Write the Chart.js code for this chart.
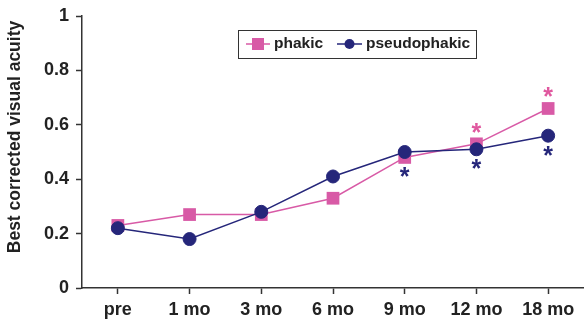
<!DOCTYPE html>
<html>
<head>
<meta charset="utf-8">
<script src="https://cdn.jsdelivr.net/npm/chart.js@4"></script>
<style>
  html, body { margin: 0; padding: 0; background: #fff; overflow: hidden; }
  #wrap { width: 584px; height: 326px; position: relative; }
</style>
</head>
<body>
<div id="wrap"><canvas id="myChart"></canvas></div>
<script>
const labels = ['pre', '1 mo', '3 mo', '6 mo', '9 mo', '12 mo', '18 mo'];
const phakic = [0.23, 0.27, 0.27, 0.33, 0.48, 0.53, 0.66];
const pseudophakic = [0.22, 0.18, 0.28, 0.41, 0.50, 0.51, 0.56];
// significance marks (1 = asterisk)
const phakicStars = [0, 0, 0, 0, 0, 1, 1];
const pseudoStars = [0, 0, 0, 0, 1, 1, 1];
const yTicks = [0, 0.2, 0.4, 0.6, 0.8, 1];

const pink = '#d85aa6';
const navy = '#25267a';
const textColor = '#222';
const fontFam = '"Liberation Sans", Arial, Helvetica, sans-serif';

function centerText(ctx, txt, x, cy) {
  ctx.textBaseline = 'alphabetic';
  let m = ctx.measureText(txt);
  let y = cy + (m.actualBoundingBoxAscent - m.actualBoundingBoxDescent) / 2;
  ctx.fillText(txt, x, y);
}

const extras = {
  id: 'extras',
  afterDatasetsDraw(chart) {
    let ctx = chart.ctx;
    let m0 = chart.getDatasetMeta(0);
    let m1 = chart.getDatasetMeta(1);
    ctx.save();
    ctx.font = 'bold 25px ' + fontFam;
    ctx.textAlign = 'center';
    for (let i = 0; i < labels.length; i++) {
      let p = m0.data[i], q = m1.data[i];
      let top = Math.min(p.y, q.y);
      let bottom = Math.max(p.y, q.y);
      if (phakicStars[i]) {
        ctx.fillStyle = '#e0589f';
        centerText(ctx, '*', p.x, top - 16);
      }
      if (pseudoStars[i]) {
        ctx.fillStyle = navy;
        centerText(ctx, '*', q.x, bottom + 15);
      }
    }

    // legend box
    ctx.strokeStyle = '#333';
    ctx.lineWidth = 1;
    ctx.strokeRect(238.5, 30.5, 238, 28);
    ctx.lineWidth = 1.5;
    ctx.strokeStyle = pink;
    ctx.beginPath(); ctx.moveTo(246, 44); ctx.lineTo(270, 44); ctx.stroke();
    ctx.fillStyle = pink;
    ctx.fillRect(252, 38, 12, 12);
    ctx.strokeStyle = navy;
    ctx.beginPath(); ctx.moveTo(337, 44); ctx.lineTo(362, 44); ctx.stroke();
    ctx.fillStyle = navy;
    ctx.beginPath(); ctx.arc(349.5, 44, 5, 0, Math.PI * 2); ctx.fill();
    ctx.fillStyle = textColor;
    ctx.font = 'bold 15.5px ' + fontFam;
    ctx.textAlign = 'left';
    centerText(ctx, 'phakic', 274, 44);
    centerText(ctx, 'pseudophakic', 366, 44);

    // y title
    ctx.translate(15, 137);
    ctx.rotate(-Math.PI / 2);
    ctx.textAlign = 'center';
    ctx.font = 'bold 17.5px ' + fontFam;
    centerText(ctx, 'Best corrected visual acuity', 0, 0);
    ctx.restore();
  }
};

new Chart(document.getElementById('myChart'), {
  type: 'line',
  data: {
    labels: labels,
    datasets: [{
      label: 'phakic',
      data: phakic,
      borderColor: pink,
      backgroundColor: pink,
      borderWidth: 1.5,
      pointStyle: 'rect',
      pointRadius: 9,
      pointBorderWidth: 0,
      tension: 0,
      order: 2
    }, {
      label: 'pseudophakic',
      data: pseudophakic,
      borderColor: navy,
      backgroundColor: navy,
      borderWidth: 1.5,
      pointStyle: 'circle',
      pointRadius: 6.5,
      pointBorderWidth: 1,
      tension: 0,
      order: 1
    }]
  },
  options: {
    responsive: true,
    maintainAspectRatio: false,
    animation: false,
    layout: { autoPadding: false, padding: { top: 16, right: 0, left: 0, bottom: 0 } },
    plugins: { legend: { display: false }, tooltip: { enabled: false } },
    scales: {
      x: {
        offset: true,
        grid: { drawOnChartArea: false, color: '#333', tickLength: 6, tickWidth: 1.5 },
        border: { color: '#333', width: 1.5 },
        ticks: { color: textColor, font: { family: fontFam, size: 18, weight: 'bold' }, padding: 5, maxRotation: 0, autoSkip: false },
        afterFit: s => { s.height = 38; s.paddingLeft = 0; s.paddingRight = 0; }
      },
      y: {
        min: 0, max: 1,
        afterBuildTicks: s => { s.ticks = yTicks.map(v => ({ value: v })); },
        grid: { drawOnChartArea: false, color: '#333', tickLength: 6, tickWidth: 1.5 },
        border: { color: '#333', width: 1.5 },
        ticks: { color: textColor, font: { family: fontFam, size: 18, weight: 'bold' }, padding: 7,
                 callback: v => String(v) },
        afterFit: s => { s.width = 82; s.paddingTop = 0; s.paddingBottom = 0; }
      }
    }
  },
  plugins: [extras]
});
</script>
</body>
</html>
